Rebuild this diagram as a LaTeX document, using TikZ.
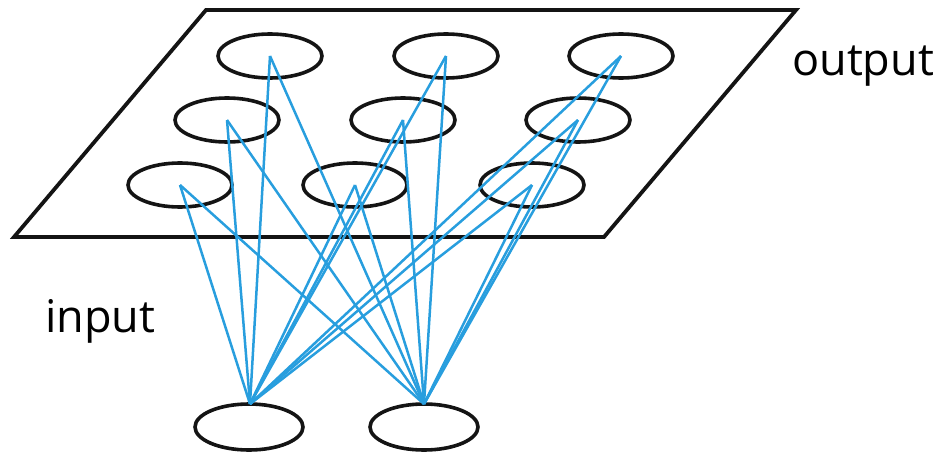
\documentclass[tikz,border=0pt]{standalone}
\usepackage{fontspec}
\setmainfont{Open Sans}
\definecolor{linkblue}{RGB}{40,158,222}
\begin{document}
\begin{tikzpicture}[x=1pt,y=-1pt,
  unitline/.style={draw=black!92,line width=3.6pt},
  link/.style={draw=linkblue,line width=2.5pt},
  lbl/.style={font=\fontsize{45}{50}\selectfont,anchor=base west,inner sep=0pt}]
\useasboundingbox (0,0) rectangle (944,452);
% plane
\draw[line width=3.8pt,black!92,line join=miter] (206,10) -- (796,10) -- (604,237) -- (14,237) -- cycle;
% output units
\foreach \n/\x/\y in {a/270/56,b/446/56,c/621/56,d/227/120,e/403/120,f/578/120,g/180/185,h/355/185,i/532/185}{
  \draw[unitline] (\x,\y) ellipse [x radius=52, y radius=22];
  \coordinate (o\n) at (\x,\y);
}
% input units
\draw[unitline] (249,427) ellipse [x radius=54, y radius=23];
\draw[unitline] (424,427) ellipse [x radius=54, y radius=23];
\coordinate (in1) at (250,404);
\coordinate (in2) at (424,404);
% links
\foreach \n in {a,b,c,d,e,f,g,h,i}{
  \draw[link] (in1) -- (o\n);
  \draw[link] (in2) -- (o\n);
}
\node[lbl] (tin) at (45,332) {input};
\node[lbl] (tout) at (792,75) {output};
\end{tikzpicture}
\end{document}
